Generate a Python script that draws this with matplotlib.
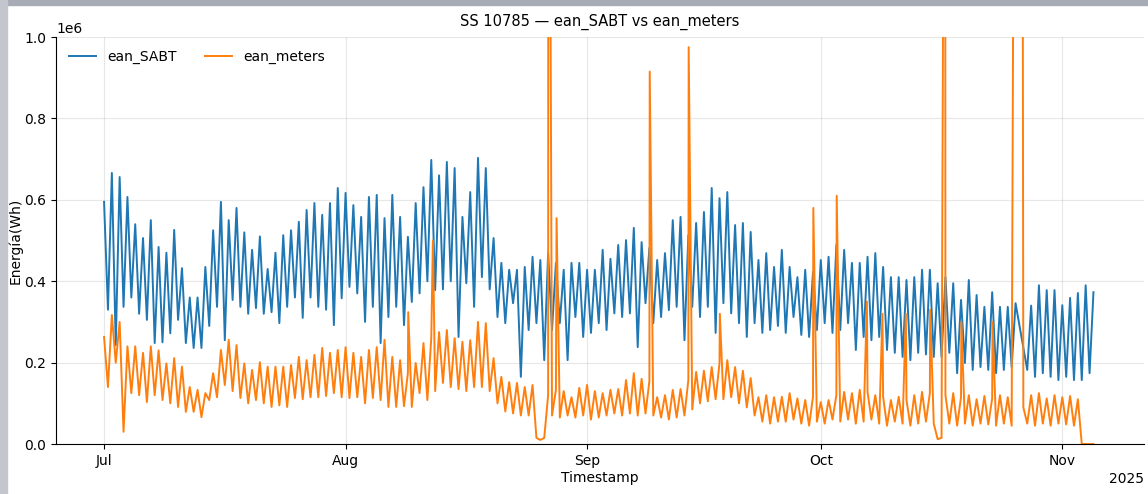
import matplotlib
matplotlib.use("Agg")
import matplotlib.pyplot as plt
import matplotlib.dates as mdates
import pandas as pd
from matplotlib.patches import Rectangle

# Días de la serie (1 jul - 5 nov 2025); pico a las 00h, valle a las 12h
days = pd.date_range("2025-07-01", periods=128, freq="D")

# ean_SABT (en 1e6 Wh) - picos y valles diarios
sabt_peak = [
    0.595, 0.666, 0.656, 0.607, 0.54, 0.506, 0.55, 0.484, 0.47, 0.526, 0.432,
    0.36, 0.36, 0.435, 0.525, 0.595, 0.55, 0.58, 0.52, 0.477, 0.51,
    0.43, 0.47, 0.513, 0.525, 0.546, 0.575, 0.592, 0.563, 0.592, 0.629, 0.617,
    0.587, 0.558, 0.607, 0.612, 0.555, 0.612, 0.558, 0.509, 0.592, 0.631, 0.698, 0.66,
    0.693, 0.678, 0.558, 0.619, 0.703, 0.678, 0.506, 0.445, 0.428, 0.428, 0.435,
    0.46, 0.452, 0.469, 0.445, 0.428, 0.445, 0.445, 0.428, 0.428, 0.477,
    0.455, 0.489, 0.501, 0.531, 0.496, 0.482, 0.452, 0.469, 0.55, 0.558, 0.513,
    0.543, 0.57, 0.629, 0.604, 0.619, 0.538, 0.543, 0.521, 0.452, 0.469, 0.435,
    0.477, 0.435, 0.41, 0.428, 0.423, 0.452, 0.46, 0.489, 0.477, 0.445, 0.445,
    0.46, 0.469, 0.435, 0.41, 0.41, 0.403, 0.41, 0.428, 0.428, 0.395, 0.41,
    0.395, 0.354, 0.403, 0.366, 0.337, 0.373, 0.337, 0.337, 0.346,
    None,
    0.34, 0.39, 0.378, 0.378, 0.341, 0.359, 0.371, 0.39, 0.373,
]
sabt_low = [
    0.33, 0.243, 0.337, 0.36, 0.32, 0.305, 0.248, 0.25, 0.272, 0.305, 0.248,
    0.236, 0.236, 0.29, 0.337, 0.255, 0.354, 0.337, 0.32, 0.334, 0.32,
    0.324, 0.297, 0.337, 0.36, 0.31, 0.36, 0.337, 0.33, 0.292, 0.358, 0.386,
    0.37, 0.30, 0.337, 0.248, 0.312, 0.337, 0.292, 0.349, 0.37, 0.40, 0.378,
    0.38, 0.40, 0.263, 0.395, 0.337, 0.41, 0.38, 0.312, 0.297, 0.346, 0.165,
    0.28, 0.297, 0.206, 0.28, 0.297, 0.206, 0.312, 0.263, 0.273, 0.297,
    0.28,
    0.321, 0.312, 0.321, 0.238, 0.346, 0.297, 0.312, 0.329, 0.337, 0.255, 0.337,
    0.312, 0.337, 0.273, 0.346, 0.321, 0.297, 0.263, 0.297, 0.273, 0.28,
    0.29,
    0.273, 0.312, 0.268, 0.263, 0.28, 0.297, 0.273, 0.28, 0.297, 0.231, 0.263,
    0.255, 0.263, 0.231, 0.224, 0.214, 0.206, 0.224, 0.22, 0.214, 0.214, 0.224,
    0.174, 0.199, 0.182, 0.189, 0.182, 0.174, 0.182, 0.189,
    None,
    0.182,
    0.165, 0.174, 0.165, 0.157, 0.165, 0.157, 0.157, 0.174,
    None,
]

# ean_meters (en 1e6 Wh)
meters_peak = [
    0.263, 0.317, 0.30, 0.24, 0.24, 0.224, 0.24, 0.23, 0.198, 0.211, 0.19,
    0.14, 0.133, 0.125, 0.174, 0.231, 0.256, 0.243, 0.198, 0.182, 0.201,
    0.19, 0.19, 0.19, 0.194,
    0.214, 0.206, 0.219, 0.236, 0.224, 0.231, 0.238, 0.224, 0.214, 0.231,
    0.238, 0.256, 0.214, 0.206, 0.174, 0.199, 0.248, 0.26,
    0.275, 0.28, 0.26, 0.251, 0.255, 0.30, 0.297, 0.211, 0.165, 0.152, 0.15,
    0.14, 0.145, 0.01, 0.12, 0.133, 0.13, 0.115, 0.138, 0.145, 0.13, 0.125,
    0.133, 0.135, 0.157, 0.174, 0.16, 0.155, 0.115, 0.12, 0.133, 0.135, 0.157,
    0.177, 0.18, 0.189, 0.199, 0.206, 0.189, 0.18, 0.162, 0.115, 0.12, 0.115,
    0.116, 0.125, 0.112, 0.108, 0.116, 0.103, 0.108, 0.12, 0.128, 0.125,
    0.133, 0.128, 0.12, 0.116, 0.108, 0.116, 0.108, 0.12, 0.128, 0.125,
    0.012,
    0.12, 0.125, 0.115, 0.12, 0.11, 0.118, 0.112, 0.12, 0.115,
    None,
    0.09,
    0.12, 0.125, 0.112, 0.12, 0.115, 0.118, 0.11,
    0.0, 0.0,
]
meters_low = [
    0.14, 0.20, 0.03, 0.125, 0.12, 0.103, 0.12, 0.108, 0.10, 0.091, 0.079,
    0.079, 0.066, 0.108, 0.115, 0.145, 0.13, 0.113, 0.10, 0.108, 0.10,
    0.091, 0.095, 0.091, 0.113, 0.11, 0.115, 0.115, 0.118, 0.125, 0.115, 0.113,
    0.115, 0.10, 0.113, 0.108, 0.091, 0.091, 0.093, 0.091, 0.125, 0.108, 0.13,
    0.15, 0.14, 0.135, 0.13, 0.14, 0.14, 0.13, 0.10, 0.08, 0.075, 0.07, 0.07,
    0.015, 0.015,
    0.07, 0.065, 0.07, 0.065, 0.07, 0.06, 0.065, 0.07,
    0.075, 0.07, 0.075, 0.07, 0.075, 0.07, 0.065, 0.06, 0.065, 0.07, 0.085,
    0.10, 0.105, 0.11, 0.11, 0.115, 0.10, 0.09, 0.07, 0.055, 0.05, 0.055,
    0.055, 0.06, 0.05, 0.045, 0.055, 0.05, 0.06, 0.055, 0.06, 0.05, 0.055,
    0.06, 0.05, 0.045, 0.055, 0.05, 0.045, 0.05, 0.055, 0.05, 0.015,
    0.05, 0.045, 0.05, 0.045, 0.05, 0.048, 0.045, 0.05, 0.045,
    None,
    0.05, 0.045, 0.05, 0.045, 0.05, 0.048, 0.045,
    0.0, 0.0,
    None,
]

# picos sueltos de ean_meters (los de 2.5 se salen por arriba)
meters_spike_times = [
    "2025-08-09 01:00", "2025-08-12 05:00", "2025-08-27 01:00", "2025-08-28 02:00",
    "2025-09-09 01:00", "2025-09-14 01:00", "2025-09-18 01:00", "2025-09-30 01:00",
    "2025-10-03 01:00", "2025-10-06 22:00", "2025-10-08 22:00", "2025-10-11 22:00",
    "2025-10-15 01:00", "2025-10-16 23:00", "2025-10-19 01:00", "2025-10-23 01:00",
    "2025-10-25 23:00", "2025-10-26 20:00",
]
meters_spikes = [
    0.324, 0.50, 2.5, 0.555,
    0.915, 0.975, 0.32, 0.58,
    0.61, 0.35, 0.32, 0.32,
    0.33, 2.5, 0.30, 0.30,
    2.5, 2.5,
]


def build_series(peaks, lows, extra_times=(), extra_vals=()):
    t, v = [], []
    for day, hi, lo in zip(days, peaks, lows):
        if hi is not None:
            t.append(day)
            v.append(hi)
        if lo is not None:
            t.append(day + pd.Timedelta(hours=12))
            v.append(lo)
    t += list(pd.to_datetime(extra_times))
    v += list(extra_vals)
    s = pd.Series(v, index=pd.DatetimeIndex(t)) * 1e6
    return s.sort_index(kind="stable")


sabt = build_series(sabt_peak, sabt_low)
meters = build_series(meters_peak, meters_low, meters_spike_times, meters_spikes)

fig = plt.figure(figsize=(11.48, 4.94), dpi=100)
ax = fig.add_axes([0.0488, 0.1012, 0.9478, 0.8239])

ax.plot(sabt.index, sabt.values, color="#1f77b4", lw=1.4, label="ean_SABT")
ax.plot(meters.index, meters.values, color="#ff7f0e", lw=1.4, label="ean_meters")

ax.set_ylim(0, 1e6)
ax.set_xlim(pd.Timestamp("2025-06-24 20:00"), pd.Timestamp("2025-11-11 12:00"))
locator = mdates.MonthLocator()
ax.xaxis.set_major_locator(locator)
ax.xaxis.set_major_formatter(mdates.ConciseDateFormatter(locator))

ax.set_title("SS 10785 — ean_SABT vs ean_meters", fontsize=10.5, pad=8)
ax.set_xlabel("Timestamp", labelpad=2)
ax.set_ylabel("Energía(Wh)", labelpad=1)
ax.grid(True, alpha=0.3)
ax.spines["top"].set_visible(False)
ax.spines["right"].set_visible(False)
ax.legend(loc="upper left", ncol=2, frameon=False)

# borde gris de la captura original
fig.patches.append(Rectangle((0, 1 - 5 / 494), 1, 5 / 494, transform=fig.transFigure,
                             color="#a7abb5", zorder=-1))
fig.patches.append(Rectangle((0, 0), 7 / 1148, 1, transform=fig.transFigure,
                             color="#c3c6cc", zorder=-1))

fig.savefig("out.png", dpi=100)
